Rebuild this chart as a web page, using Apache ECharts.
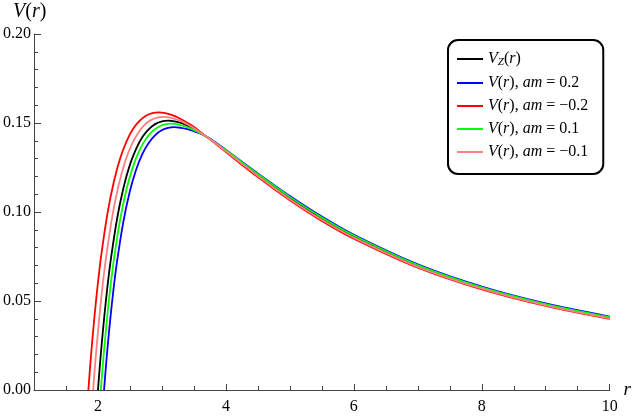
<!DOCTYPE html>
<html>
<head>
    <meta charset="utf-8">
    <title>V(r)</title>
    <script src="https://cdn.jsdelivr.net/npm/echarts@6/dist/echarts.min.js"></script>
    <style>
        html, body {
            margin: 0;
            padding: 0;
            background: #fff;
        }

        #main {
            width: 634px;
            height: 416px;
        }
    </style>
</head>
<body>
<div id="main"></div>
<script>
    // x 轴主刻度
    var xMajor = [2, 4, 6, 8, 10];

    // V_Z(r)
    var rZ = [2.0, 2.02, 2.05, 2.1, 2.15, 2.2, 2.3, 2.4, 2.5, 2.6, 2.7, 2.8, 2.9, 3.0, 3.1, 3.2, 3.3, 3.4, 3.6, 3.8, 4.0, 4.5, 5, 5.5, 6, 7, 8, 9, 10];
    var vZ = [0, 0.0094, 0.0224, 0.0418, 0.0586, 0.0731, 0.0965, 0.1138, 0.1266, 0.1358, 0.1424, 0.1467, 0.1495, 0.1509, 0.1513, 0.1509, 0.1500, 0.1485, 0.1445, 0.1397, 0.1344, 0.1208, 0.1079, 0.0963, 0.0862, 0.0697, 0.0573, 0.0479, 0.0405];

    // am = 0.2
    var rA = [2.095, 2.115, 2.145, 2.195, 2.245, 2.295, 2.395, 2.495, 2.595, 2.695, 2.795, 2.895, 2.995, 3.095, 3.195, 3.295, 3.395, 3.495, 3.595, 3.695, 3.8, 4.0, 4.5, 5, 5.5, 6, 7, 8, 9, 10];
    var vA = [0, 0.0091, 0.0219, 0.0408, 0.0572, 0.0714, 0.0942, 0.1111, 0.1236, 0.1326, 0.1389, 0.1432, 0.1459, 0.1473, 0.1477, 0.1473, 0.1466, 0.1454, 0.1441, 0.1424, 0.1401, 0.1349, 0.1217, 0.1090, 0.0974, 0.0872, 0.0706, 0.0581, 0.0486, 0.0412];

    // am = -0.2
    var rB = [1.85, 1.87, 1.90, 1.95, 2.0, 2.05, 2.15, 2.25, 2.35, 2.45, 2.55, 2.65, 2.75, 2.85, 2.95, 3.05, 3.15, 3.25, 3.35, 3.45, 3.55, 3.65, 3.8, 4.0, 4.5, 5, 5.5, 6, 7, 8, 9, 10];
    var vB = [0, 0.0097, 0.0231, 0.0431, 0.0604, 0.0754, 0.0995, 0.1173, 0.1305, 0.1400, 0.1468, 0.1512, 0.1541, 0.1556, 0.1560, 0.1556, 0.1546, 0.1531, 0.1511, 0.1490, 0.1465, 0.1436, 0.1395, 0.1337, 0.1196, 0.1066, 0.0950, 0.0850, 0.0687, 0.0565, 0.0472, 0.0399];

    // am = 0.1
    var rC = [2.045, 2.065, 2.095, 2.145, 2.195, 2.245, 2.345, 2.445, 2.545, 2.645, 2.745, 2.845, 2.945, 3.045, 3.145, 3.245, 3.345, 3.445, 3.545, 3.645, 3.8, 4.0, 4.5, 5, 5.5, 6, 7, 8, 9, 10];
    var vC = [0, 0.0093, 0.0222, 0.0413, 0.0580, 0.0723, 0.0954, 0.1126, 0.1252, 0.1343, 0.1408, 0.1451, 0.1478, 0.1492, 0.1496, 0.1492, 0.1483, 0.1470, 0.1453, 0.1434, 0.1398, 0.1347, 0.1213, 0.1085, 0.0969, 0.0868, 0.0702, 0.0577, 0.0483, 0.0409];

    // am = -0.1
    var rD = [1.925, 1.945, 1.975, 2.025, 2.075, 2.125, 2.225, 2.325, 2.425, 2.525, 2.625, 2.725, 2.825, 2.925, 3.025, 3.125, 3.225, 3.325, 3.425, 3.525, 3.645, 3.8, 4.0, 4.5, 5, 5.5, 6, 7, 8, 9, 10];
    var vD = [0, 0.0095, 0.0227, 0.0424, 0.0594, 0.0741, 0.0978, 0.1154, 0.1284, 0.1377, 0.1443, 0.1488, 0.1516, 0.1530, 0.1534, 0.1530, 0.1520, 0.1506, 0.1487, 0.1465, 0.1435, 0.1396, 0.1341, 0.1202, 0.1072, 0.0956, 0.0856, 0.0692, 0.0569, 0.0475, 0.0402];

    var serif = "'Liberation Serif', 'DejaVu Serif', serif";
    var axisColor = '#444';

    function pairs(rs, vs) {
        return rs.map(function (r, i) {
            return [r, vs[i]];
        });
    }

    function mkSeries(name, color, rs, vs) {
        return {
            name: name,
            type: 'line',
            showSymbol: false,
            smooth: 0.3,
            color: color,
            lineStyle: {color: color, width: 1.8},
            data: pairs(rs, vs)
        };
    }

    // 图例里的数学文字
    var legendText = {
        'VZ': '{i|V}{s|Z}{n|(}{i|r}{n|)}',
        'a1': '{i|V}{n|(}{i|r}{n|), }{i|am}{n| = 0.2}',
        'a2': '{i|V}{n|(}{i|r}{n|), }{i|am}{n| = \u22120.2}',
        'a3': '{i|V}{n|(}{i|r}{n|), }{i|am}{n| = 0.1}',
        'a4': '{i|V}{n|(}{i|r}{n|), }{i|am}{n| = \u22120.1}'
    };

    var myChart = echarts.init(document.getElementById('main'), null, {renderer: 'canvas'});

    var option = {
        animation: false,
        backgroundColor: '#fff',
        // y 轴名称 V(r)
        title: {
            text: '{i|V}{n|(}{i|r}{n|)}',
            left: 13,
            top: 2,
            padding: 0,
            textStyle: {
                fontSize: 20,
                fontWeight: 'normal',
                rich: {
                    i: {fontFamily: serif, fontStyle: 'italic', fontWeight: 'normal', fontSize: 20, color: '#000'},
                    n: {fontFamily: serif, fontWeight: 'normal', fontSize: 20, color: '#000'}
                }
            }
        },
        grid: {left: 34, right: 24, top: 34, bottom: 26, containLabel: false},
        legend: {
            orient: 'vertical',
            left: 448,
            top: 40,
            padding: [11, 15, 14, 9],
            itemGap: 7,
            itemWidth: 26,
            itemHeight: 2,
            icon: 'rect',
            backgroundColor: '#fff',
            borderColor: '#000',
            borderWidth: 2,
            borderRadius: 10,
            data: ['VZ', 'a1', 'a2', 'a3', 'a4'],
            formatter: function (name) {
                return legendText[name];
            },
            textStyle: {
                fontFamily: serif,
                fontSize: 16,
                color: '#000',
                rich: {
                    i: {fontFamily: serif, fontStyle: 'italic', fontSize: 16, color: '#000'},
                    n: {fontFamily: serif, fontSize: 16, color: '#000'},
                    s: {fontFamily: serif, fontStyle: 'italic', fontSize: 11, color: '#000', padding: [7, 0, 0, 0]}
                }
            }
        },
        xAxis: [{
            type: 'value',
            min: 1,
            max: 10,
            name: 'r',
            nameLocation: 'end',
            nameGap: 8,
            nameTextStyle: {fontFamily: serif, fontStyle: 'italic', fontSize: 19, color: '#000', verticalAlign: 'middle'},
            axisLine: {lineStyle: {color: axisColor, width: 1}},
            axisTick: {inside: true, length: 6, customValues: xMajor, lineStyle: {color: axisColor}},
            axisLabel: {customValues: xMajor, margin: 9, fontFamily: serif, fontSize: 16, color: '#000'},
            splitLine: {show: false}
        }, {
            // 次刻度，每 0.5 一个
            type: 'value',
            min: 1,
            max: 10,
            interval: 0.5,
            position: 'bottom',
            axisLine: {show: false},
            axisTick: {show: true, inside: true, length: 4, lineStyle: {color: axisColor}},
            axisLabel: {show: false},
            splitLine: {show: false}
        }],
        yAxis: [{
            type: 'value',
            min: 0,
            max: 0.2,
            interval: 0.05,
            axisLine: {show: true, lineStyle: {color: axisColor, width: 1}},
            axisTick: {show: true, inside: true, length: 7, lineStyle: {color: axisColor}},
            axisLabel: {
                margin: 3,
                fontFamily: serif,
                fontSize: 16,
                color: '#000',
                formatter: function (v) {
                    return v.toFixed(2);
                }
            },
            splitLine: {show: false}
        }, {
            // 次刻度，每 0.01 一个
            type: 'value',
            min: 0,
            max: 0.2,
            interval: 0.01,
            position: 'left',
            axisLine: {show: false},
            axisTick: {show: true, inside: true, length: 4, lineStyle: {color: axisColor}},
            axisLabel: {show: false},
            splitLine: {show: false}
        }],
        series: [
            mkSeries('VZ', '#000000', rZ, vZ),
            mkSeries('a1', '#0000ff', rA, vA),
            mkSeries('a2', '#ff0000', rB, vB),
            mkSeries('a3', '#00ff00', rC, vC),
            mkSeries('a4', '#ff8080', rD, vD)
        ]
    };
    myChart.setOption(option);
</script>
</body>
</html>
